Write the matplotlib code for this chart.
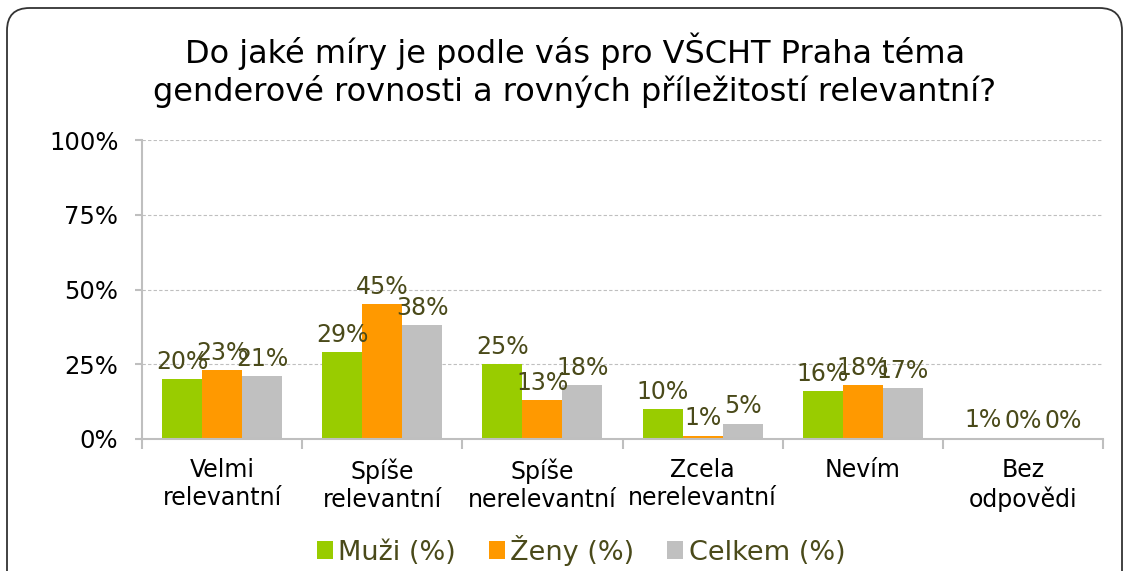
import matplotlib
matplotlib.use("Agg")
import matplotlib.pyplot as plt
import numpy as np
from matplotlib.patches import FancyBboxPatch

categories = ["Velmi\nrelevantní", "Spíše\nrelevantní", "Spíše\nnerelevantní",
              "Zcela\nnerelevantní", "Nevím", "Bez\nodpovědi"]
series_names = ["Muži (%)", "Ženy (%)", "Celkem (%)"]
muzi = [20, 29, 25, 10, 16, 0.5]
zeny = [23, 45, 13, 1, 18, 0]
celkem = [21, 38, 18, 5, 17, 0.3]
colors = ["#99CC00", "#FF9900", "#C0C0C0"]
yticks = [0, 25, 50, 75, 100]
title = "Do jaké míry je podle vás pro VŠCHT Praha téma\ngenderové rovnosti a rovných příležitostí relevantní?"

label_color = "#4A4A1A"
plt.rcParams['font.family'] = ['DejaVu Sans']

fig = plt.figure(figsize=(11.28, 5.71), dpi=100)
ax = fig.add_axes([142/1128, 1-439/571, (1103-142)/1128, (439-140)/571])

x = np.arange(len(categories))
w = 0.25
for i, (vals, col, name) in enumerate(zip([muzi, zeny, celkem], colors, series_names)):
    bars = ax.bar(x + (i-1)*w, vals, w, color=col, label=name, zorder=2)
    ax.bar_label(bars, labels=[f"{int(v + 0.5):d}%" for v in vals], padding=4,
                 color=label_color, fontsize=17, zorder=4)

ax.set_ylim(0, 100)
ax.set_xlim(-0.5, len(categories)-0.5)
ax.set_yticks(yticks)
ax.set_yticklabels([f"{t}%" for t in yticks], fontsize=17.5)
ax.yaxis.grid(True, linestyle=(0, (3, 2)), color="#BFBFBF", linewidth=0.8, zorder=0)
ax.set_xticks(x)
ax.set_xticklabels(categories, fontsize=17, linespacing=1.2)
ax.set_xticks(np.arange(len(categories)+1) - 0.5, minor=True)
ax.tick_params(axis='x', which='major', length=0, pad=14)
ax.tick_params(axis='x', which='minor', length=7, color="#BFBFBF", width=1.5)
ax.tick_params(axis='y', length=5, color="#BFBFBF", width=1.5, pad=12)
for s in ["top", "right"]:
    ax.spines[s].set_visible(False)
for s in ["left", "bottom"]:
    ax.spines[s].set_color("#BFBFBF")
    ax.spines[s].set_linewidth(1.5)
    ax.spines[s].set_zorder(3)

fig.text(575/1128, 1-70/571, title, ha="center", va="center", fontsize=23,
         linespacing=1.2, color="black")

leg = fig.legend(loc="center", bbox_to_anchor=(581/1128, 1-550/571), ncol=3, frameon=False,
                 fontsize=19.5, handlelength=0.6, handleheight=0.6, handletextpad=0.2,
                 columnspacing=1.2)
for t in leg.get_texts():
    t.set_color(label_color)

frame = FancyBboxPatch((7/1128, -0.2), (1122-7)/1128, 1.2 - 8/571,
                       boxstyle="round,pad=0,rounding_size=0.02",
                       transform=fig.transFigure, fill=False, edgecolor="#333333",
                       linewidth=1.3, mutation_aspect=1128/571)
fig.patches.append(frame)

fig.savefig("out.png", dpi=100)
